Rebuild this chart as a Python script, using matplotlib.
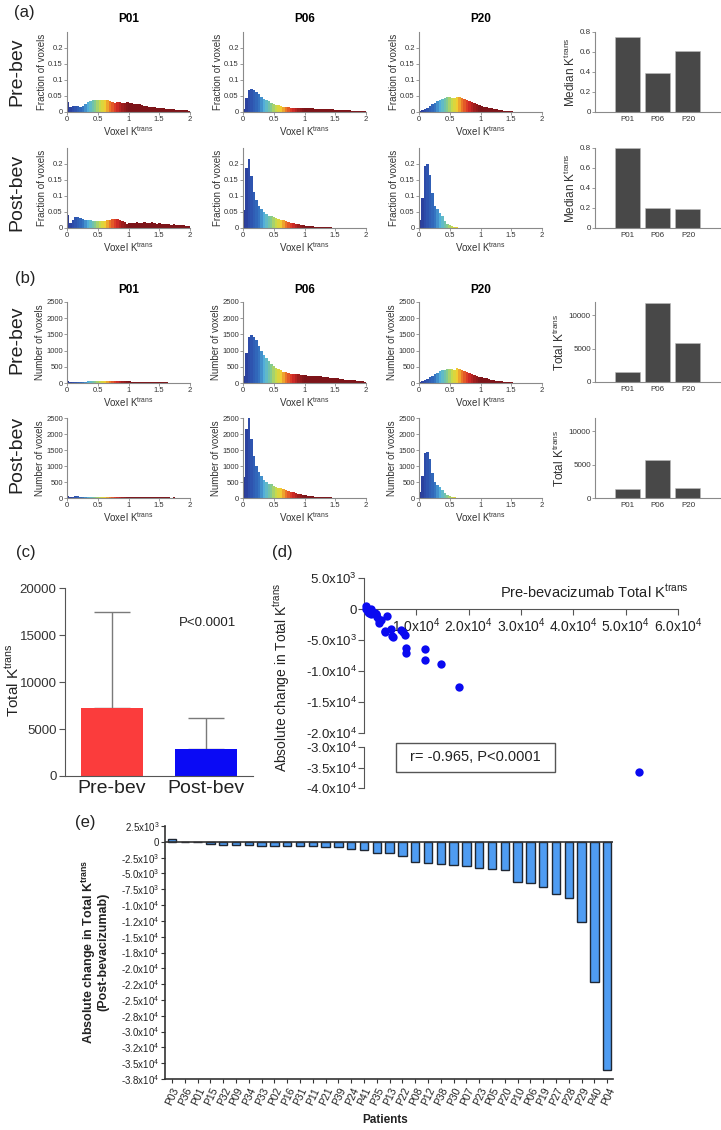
import matplotlib.pyplot as plt
import numpy as np
from matplotlib.colors import Normalize, LinearSegmentedColormap
from matplotlib.patches import Rectangle

plt.rcParams['font.family'] = ['Liberation Sans', 'DejaVu Sans']
plt.rcParams['mathtext.fontset'] = 'custom'
plt.rcParams['mathtext.rm'] = 'Liberation Sans'
plt.rcParams['mathtext.it'] = 'Liberation Sans:italic'
plt.rcParams['mathtext.bf'] = 'Liberation Sans:bold'

# ---------------- dados ----------------
hist_patients = ['P01', 'P06', 'P20']
bin_width = 0.04  # 50 bins de 0 a 2

frac_pre_P01 = [0.030, 0.015, 0.018, 0.020, 0.019, 0.017, 0.020, 0.026, 0.030, 0.033,
                0.038, 0.037, 0.036, 0.039, 0.037, 0.039, 0.036, 0.033, 0.031, 0.028,
                0.030, 0.031, 0.029, 0.028, 0.030, 0.028, 0.027, 0.026, 0.024, 0.024,
                0.022, 0.020, 0.018, 0.017, 0.016, 0.015, 0.014, 0.013, 0.012, 0.011,
                0.010, 0.009, 0.008, 0.008, 0.007, 0.007, 0.006, 0.006, 0.005, 0.004]
frac_pre_P06 = [0.010, 0.045, 0.070, 0.072, 0.070, 0.064, 0.056, 0.048, 0.042, 0.037,
                0.033, 0.029, 0.026, 0.023, 0.021, 0.019, 0.017, 0.016, 0.015, 0.014,
                0.013, 0.013, 0.013, 0.012, 0.012, 0.012, 0.011, 0.011, 0.011, 0.010,
                0.010, 0.010, 0.009, 0.009, 0.009, 0.008, 0.008, 0.007, 0.007, 0.006,
                0.006, 0.005, 0.005, 0.005, 0.004, 0.004, 0.003, 0.003, 0.003, 0.002]
frac_pre_P20 = [0.003, 0.006, 0.010, 0.014, 0.019, 0.024, 0.029, 0.034, 0.038, 0.042,
                0.044, 0.046, 0.047, 0.045, 0.044, 0.048, 0.046, 0.043, 0.040, 0.037,
                0.034, 0.030, 0.027, 0.024, 0.021, 0.019, 0.017, 0.015, 0.013, 0.011,
                0.009, 0.008, 0.006, 0.005, 0.004, 0.003, 0.002, 0.002, 0.001, 0.001,
                0.0005, 0, 0, 0, 0, 0, 0, 0, 0, 0]
frac_post_P01 = [0.040, 0.015, 0.025, 0.034, 0.034, 0.031, 0.028, 0.026, 0.025, 0.024,
                 0.023, 0.022, 0.023, 0.022, 0.022, 0.023, 0.024, 0.025, 0.027, 0.028,
                 0.027, 0.026, 0.023, 0.018, 0.013, 0.015, 0.016, 0.015, 0.018, 0.017,
                 0.016, 0.020, 0.017, 0.016, 0.018, 0.015, 0.014, 0.016, 0.013, 0.012,
                 0.013, 0.011, 0.010, 0.011, 0.009, 0.010, 0.008, 0.009, 0.007, 0.005]
frac_post_P06 = [0.057, 0.187, 0.217, 0.161, 0.113, 0.087, 0.070, 0.059, 0.050, 0.043,
                 0.039, 0.037, 0.033, 0.030, 0.028, 0.026, 0.024, 0.022, 0.019, 0.017,
                 0.015, 0.013, 0.011, 0.0096, 0.0083, 0.007, 0.006, 0.005, 0.0048, 0.0039,
                 0.0035, 0.003, 0.0026, 0.0022, 0.0019, 0.0016, 0.0013, 0.001, 0.0009, 0.0007,
                 0.0006, 0.0005, 0.0004, 0.0003, 0.0003, 0.0003, 0.0002, 0.0002, 0.0001, 0.0001]
frac_post_P20 = [0.025, 0.094, 0.193, 0.200, 0.166, 0.108, 0.069, 0.058, 0.048, 0.036,
                 0.023, 0.014, 0.008, 0.005, 0.003, 0.0017, 0.001, 0.0007, 0, 0,
                 0, 0, 0, 0, 0, 0, 0, 0, 0, 0,
                 0, 0, 0, 0, 0, 0, 0, 0, 0, 0,
                 0, 0, 0, 0, 0, 0, 0, 0, 0, 0]

# número total de voxels de cada exame (para o painel b)
n_voxels_pre = [1700, 20500, 9400]
n_voxels_post = [1500, 11500, 7250]

median_pre = [0.75, 0.39, 0.61]
median_post = [0.80, 0.20, 0.19]
total_pre = [1450, 11900, 5900]
total_post = [1340, 5650, 1500]

# painel c
group_names = ['Pre-bev', 'Post-bev']
group_mean = [7250, 2850]
group_sd = [10250, 3350]

# painéis d e e
patients = ['P03', 'P36', 'P01', 'P15', 'P32', 'P09', 'P34', 'P33', 'P02', 'P16',
            'P31', 'P11', 'P21', 'P39', 'P24', 'P41', 'P35', 'P13', 'P22', 'P08',
            'P12', 'P38', 'P30', 'P07', 'P23', 'P05', 'P20', 'P10', 'P06', 'P19',
            'P27', 'P28', 'P29', 'P40', 'P04']
change_total = [520, -80, -60, -420, -530, -540, -580, -590, -680, -690,
                -700, -740, -750, -790, -1160, -1320, -1740, -1840, -2300, -3260,
                -3420, -3580, -3680, -3790, -4210, -4370, -4470, -6310, -6450, -7150,
                -8250, -8930, -12600, -22200, -36000]
pre_total_all = [450, 300, 1400, 700, 900, 1100, 1500, 1000, 1600, 1900,
                 2100, 1300, 2200, 2300, 4400, 2500, 2900, 3200, 2900, 5100,
                 7000, 4100, 4000, 7500, 7900, 5300, 5600, 8000, 11700, 8100,
                 11700, 14700, 18200, 26000, 52500]

# ---------------- figura ----------------
W, H = 721, 1130
fig = plt.figure(figsize=(W / 100, H / 100), dpi=100)


def eixo(l, t, r, b):
    # cria eixo a partir de coordenadas em pixels (origem no topo)
    return fig.add_axes([l / W, 1 - b / H, (r - l) / W, (b - t) / H])


def texto(x, y, s, **kw):
    fig.text(x / W, 1 - y / H, s, **kw)


def estilo(ax, labelsize):
    for s in ['top', 'right']:
        ax.spines[s].set_visible(False)
    for s in ['left', 'bottom']:
        ax.spines[s].set_color('#8a8a8a')
        ax.spines[s].set_linewidth(0.8)
    ax.tick_params(labelsize=labelsize, length=2, width=0.6, pad=1,
                   colors='#8a8a8a', labelcolor='#333333')


# jet "apagado", como no original
cores_jet = [(0.00, (40, 50, 140)), (0.10, (45, 75, 170)), (0.25, (50, 110, 190)),
             (0.35, (85, 180, 220)), (0.45, (125, 200, 150)), (0.55, (205, 220, 70)),
             (0.62, (240, 205, 50)), (0.70, (235, 120, 40)), (0.80, (215, 45, 40)),
             (0.90, (160, 30, 30)), (1.00, (125, 20, 25))]
cmap = LinearSegmentedColormap.from_list(
    'jet_suave', [(p, tuple(v / 255 for v in c)) for p, c in cores_jet])
norm = Normalize(0, 1.0)
centers = np.arange(len(frac_pre_P01)) * bin_width + bin_width / 2
cores = cmap(norm(centers))

hist_x = [(67, 190), (243, 366), (419, 542)]
bar_x = (595, 720)


def histograma(ax, valores, ymax, yticks, ylabels, ylabel):
    ax.bar(centers, valores, width=bin_width * 1.02, color=cores, linewidth=0)
    ax.set_xlim(0, 2)
    ax.set_ylim(0, ymax)
    ax.set_xticks([0, 0.5, 1, 1.5, 2], ['0', '0.5', '1', '1.5', '2'])
    ax.set_yticks(yticks, ylabels)
    ax.set_ylabel(ylabel, fontsize=7, labelpad=1, color='#333333')
    ax.set_xlabel('Voxel K$^{\\rm trans}$', fontsize=7, labelpad=1, color='#333333')
    estilo(ax, 5.5)


def barras(ax, valores, ymax, yticks, ylabels, ylabel):
    ax.bar(range(3), valores, width=0.82, color='#484848', edgecolor='#bbbbbb', linewidth=0.4)
    ax.set_xlim(-1.05, 3.05)
    ax.set_ylim(0, ymax)
    ax.set_xticks(range(3), hist_patients)
    ax.set_yticks(yticks, ylabels)
    ax.set_ylabel(ylabel, fontsize=8.5, labelpad=1, color='#333333')
    estilo(ax, 5.8)
    ax.tick_params(axis='x', length=0, pad=3)


frac_pre = [frac_pre_P01, frac_pre_P06, frac_pre_P20]
frac_post = [frac_post_P01, frac_post_P06, frac_post_P20]

yt_frac = [0, 0.05, 0.1, 0.15, 0.2]
yl_frac = ['0', '0.05', '0.1', '0.15', '0.2']
yt_count = [0, 500, 1000, 1500, 2000, 2500]
yl_count = [str(v) for v in yt_count]

# painel a: fração de voxels
for i, nome in enumerate(hist_patients):
    l, r = hist_x[i]
    texto((l + r) / 2, 19, nome, ha='center', va='center', fontsize=8.5, fontweight='bold')
    ax = eixo(l, 32, r, 112)
    histograma(ax, frac_pre[i], 0.25, yt_frac, yl_frac, 'Fraction of voxels')
    ax = eixo(l, 148, r, 228)
    histograma(ax, frac_post[i], 0.25, yt_frac, yl_frac, 'Fraction of voxels')

ax = eixo(bar_x[0], 32, bar_x[1], 112)
barras(ax, median_pre, 0.8, [0, 0.2, 0.4, 0.6, 0.8], ['0', '0.2', '0.4', '0.6', '0.8'],
       'Median K$^{\\rm trans}$')
ax = eixo(bar_x[0], 148, bar_x[1], 228)
barras(ax, median_post, 0.8, [0, 0.2, 0.4, 0.6, 0.8], ['0', '0.2', '0.4', '0.6', '0.8'],
       'Median K$^{\\rm trans}$')

# painel b: número de voxels
for i, nome in enumerate(hist_patients):
    l, r = hist_x[i]
    texto((l + r) / 2, 290, nome, ha='center', va='center', fontsize=8.5, fontweight='bold')
    ax = eixo(l, 302, r, 383)
    histograma(ax, np.array(frac_pre[i]) * n_voxels_pre[i], 2500, yt_count, yl_count,
               'Number of voxels')
    ax = eixo(l, 418, r, 498)
    histograma(ax, np.array(frac_post[i]) * n_voxels_post[i], 2500, yt_count, yl_count,
               'Number of voxels')

ax = eixo(bar_x[0], 302, bar_x[1], 382)
barras(ax, total_pre, 12000, [0, 5000, 10000], ['0', '5000', '10000'], 'Total K$^{\\rm trans}$')
ax = eixo(bar_x[0], 418, bar_x[1], 498)
barras(ax, total_post, 12000, [0, 5000, 10000], ['0', '5000', '10000'], 'Total K$^{\\rm trans}$')

for y, s in [(72, 'Pre-bev'), (192, 'Post-bev'), (340, 'Pre-bev'), (454, 'Post-bev')]:
    texto(17, y, s, rotation=90, ha='center', va='center', fontsize=14, color='#222222')

for x, y, s in [(14, 13, '(a)'), (15, 279, '(b)'), (16, 553, '(c)'), (272, 553, '(d)'), (75, 822, '(e)')]:
    texto(x, y, s, ha='left', va='center', fontsize=12, color='#222222')

# painel c
ax = eixo(65, 588, 253, 776)
ax.bar([0, 1], group_mean, width=0.67, color=['#fb3c3c', '#0a0af5'], zorder=2)
ax.errorbar([0, 1], group_mean, yerr=[[0, 0], group_sd], fmt='none', ecolor='#7a7a7a',
            elinewidth=1, capsize=13, capthick=1, zorder=1)
ax.set_xlim(-0.5, 1.5)
ax.set_ylim(0, 20000)
ax.set_yticks([0, 5000, 10000, 15000, 20000])
ax.set_xticks([0, 1], group_names)
for s in ['top', 'right']:
    ax.spines[s].set_visible(False)
for s in ['left', 'bottom']:
    ax.spines[s].set_color('#555555')
ax.tick_params(axis='y', labelsize=9.5, length=4, pad=2, colors='#555555', labelcolor='#333333')
ax.tick_params(axis='x', labelsize=14, length=0, pad=3, labelcolor='#222222')
texto(13, 680, 'Total K$^{\\rm trans}$', rotation=90, ha='center', va='center', fontsize=11,
      color='#222222')
texto(208, 623, 'P<0.0001', ha='center', va='center', fontsize=9.5, color='#222222')


# painel d
def sci(v):
    if v == 0:
        return '0'
    e = int(np.floor(np.log10(abs(v))))
    return f'{v / 10 ** e:.1f}x10$^{{{e}}}$'


pre_arr = np.array(pre_total_all)
chg_arr = np.array(change_total)

ax_top = eixo(364, 578, 678, 733)
m = chg_arr > -20000
ax_top.scatter(pre_arr[m], chg_arr[m], s=36, color='#0a0af0', clip_on=False, zorder=3, linewidths=0)
ax_top.set_xlim(0, 60000)
ax_top.set_ylim(-20000, 5000)
ax_top.spines['top'].set_visible(False)
ax_top.spines['right'].set_visible(False)
ax_top.spines['bottom'].set_position(('data', 0))
for s in ['left', 'bottom']:
    ax_top.spines[s].set_color('#555555')
xt = [10000, 20000, 30000, 40000, 50000, 60000]
ax_top.set_xticks(xt, [sci(v) for v in xt])
yt = [5000, 0, -5000, -10000, -15000, -20000]
ax_top.set_yticks(yt, [sci(v) for v in yt])
ax_top.tick_params(labelsize=9.5, length=4, pad=1, colors='#555555', labelcolor='#222222')
ax_top.tick_params(axis='x', labelsize=10)

ax_low = eixo(364, 747, 678, 788)
m = chg_arr < -30000
ax_low.scatter(pre_arr[m], chg_arr[m], s=36, color='#0a0af0', clip_on=False, zorder=3, linewidths=0)
ax_low.set_xlim(0, 60000)
ax_low.set_ylim(-40000, -30000)
for s in ['top', 'right', 'bottom']:
    ax_low.spines[s].set_visible(False)
ax_low.spines['left'].set_color('#555555')
ax_low.set_xticks([])
yt = [-30000, -35000, -40000]
ax_low.set_yticks(yt, [sci(v) for v in yt])
ax_low.tick_params(labelsize=9.5, length=4, pad=1, colors='#555555', labelcolor='#222222')

texto(282, 677, 'Absolute change in Total K$^{\\rm trans}$', rotation=90, ha='center',
      va='center', fontsize=10, color='#222222')
texto(594, 592, 'Pre-bevacizumab Total K$^{\\rm trans}$', ha='center', va='center',
      fontsize=10.5, color='#222222')
fig.add_artist(Rectangle((396 / W, 1 - 772 / H), 159 / W, 29 / H, transform=fig.transFigure,
                         fc='white', ec='#555555', lw=1))
texto(475, 757, 'r= -0.965, P<0.0001', ha='center', va='center', fontsize=10.5, color='#222222')

# painel e
ax = eixo(165, 826, 613, 1079)
pos = np.arange(len(patients))
ax.bar(pos, change_total, width=0.66, color='#4f9cf2', edgecolor='#1f2733', linewidth=1, zorder=2)
ax.axhline(0, color='#333333', lw=1.2, zorder=3)
ax.set_xlim(-0.55, len(patients) - 0.55)
ax.set_ylim(-37500, 2500)
yt = list(range(2500, -37501, -2500))
ax.set_yticks(yt, [sci(v) for v in yt])
ax.set_xticks(pos, patients, rotation=65, ha='right', rotation_mode='anchor')
for s in ['top', 'right']:
    ax.spines[s].set_visible(False)
for s in ['left', 'bottom']:
    ax.spines[s].set_color('#333333')
    ax.spines[s].set_linewidth(1.2)
ax.tick_params(axis='y', labelsize=7, length=3, pad=1, colors='#333333', labelcolor='#222222')
ax.tick_params(axis='x', labelsize=7.5, length=3, pad=2, colors='#333333', labelcolor='#222222')
texto(95, 952, 'Absolute change in Total K$^{\\mathbf{trans}}$\n(Post-bevacizumab)', rotation=90,
      ha='center', va='center', fontsize=9, fontweight='bold', multialignment='center',
      linespacing=0.95, color='#222222')
texto(385, 1120, 'Patients', ha='center', va='center', fontsize=8.5, fontweight='bold',
      color='#222222')

fig.savefig('out.png', dpi=100)
